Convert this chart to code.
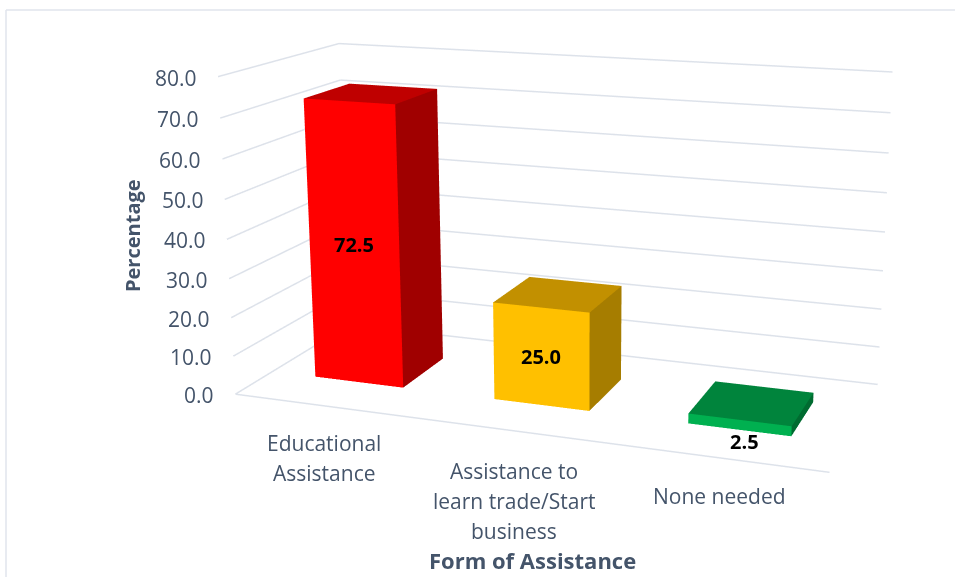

import numpy as np, plotly.graph_objects as go

categories = ["Educational<br>Assistance", "Assistance to<br>learn trade/Start<br>business", "None needed"]
values = [72.5, 25.0, 2.5]
labels = ["72.5", "25.0", "2.5"]
front_colors = ["#ff0000", "#ffc000", "#00b050"]
side_colors = ["#a00000", "#a67d00", "#006b30"]
top_colors = ["#bf0000", "#c29000", "#00843c"]
tick_values = [0, 10, 20, 30, 40, 50, 60, 70, 80]
tick_labels = ["0.0", "10.0", "20.0", "30.0", "40.0", "50.0", "60.0", "70.0", "80.0"]
x_title = "Form of Assistance"
y_title = "Percentage"

W, H = 955, 577
TEXT = "#44546a"
GRID = "#dde2ea"
FRAME = "#e0e5ec"
FONT = "Open Sans"
N = len(categories)

# Bar placement in the scene's axis units (x: category units, y: 0-1 depth)
BAR_STARTS = [0.2493, 1.2477, 2.2461]
BAR_WIDTH = 0.4995
D0, D1 = 0.3012, 0.6980

# Camera matching the reference's perspective
EYE = dict(x=0.9209, y=-2.4698, z=0.6762)
CENTER = dict(x=-0.0113, y=0.1351, z=-0.0378)
ASPECT = dict(x=1.0, y=0.4093, z=0.5333)
FOCAL = 1657.95
CX, CY = 580.0, 238.0

fig = go.Figure()
for t in tick_values:
    fig.add_trace(go.Scatter3d(x=[0, 0, N], y=[0, 1, 1], z=[t, t, t], mode="lines",
                               line=dict(color=GRID, width=3), hoverinfo="skip"))
fig.add_trace(go.Scatter3d(x=[0, N], y=[0, 0], z=[0, 0], mode="lines",
                           line=dict(color=GRID, width=3), hoverinfo="skip"))

for i, v in enumerate(values):
    x0, x1 = BAR_STARTS[i], BAR_STARTS[i] + BAR_WIDTH
    vx = [x0, x1, x1, x0, x0, x1, x1, x0]
    vy = [D0, D0, D1, D1, D0, D0, D1, D1]
    vz = [0, 0, 0, 0, v, v, v, v]
    # faces: front (0,1,5,4), right side (1,2,6,5), top (4,5,6,7)
    fig.add_trace(go.Mesh3d(x=vx, y=vy, z=vz,
                            i=[0, 0, 1, 1, 4, 4], j=[1, 5, 2, 6, 5, 6], k=[5, 4, 6, 5, 6, 7],
                            facecolor=[front_colors[i]] * 2 + [side_colors[i]] * 2 + [top_colors[i]] * 2,
                            flatshading=True, hoverinfo="skip",
                            lighting=dict(ambient=1, diffuse=0, specular=0, roughness=1, fresnel=0)))

scene_notes = []
for t, s in zip(tick_values, tick_labels):
    scene_notes.append(dict(x=0, y=0, z=t, text=s, showarrow=False, xanchor="right",
                            xshift=-19, yshift=-1,
                            font=dict(family=FONT, size=21, color=TEXT)))
for i, (v, s) in enumerate(zip(values, labels)):
    small = v < 5
    scene_notes.append(dict(x=BAR_STARTS[i] + BAR_WIDTH / 2, y=D0, z=0 if small else v / 2,
                            text="<b>%s</b>" % s, showarrow=False,
                            xshift=5 if small else 0, yshift=-12 if small else 0,
                            font=dict(family=FONT, size=20, color="black")))

cat_x = [324, 514, 719]
cat_y = [443, 471, 496]
notes = []
for cat, cx, cy in zip(categories, cat_x, cat_y):
    for k, line in enumerate(cat.split("<br>")):
        notes.append(dict(x=cx / W, y=1 - (cy + 30 * k) / H, xref="paper", yref="paper", text=line,
                          xanchor="center", yanchor="middle", showarrow=False,
                          font=dict(family=FONT, size=21, color=TEXT)))
notes.append(dict(x=532 / W, y=1 - 560 / H, xref="paper", yref="paper", text="<b>%s</b>" % x_title,
                  xanchor="center", yanchor="middle", showarrow=False,
                  font=dict(family=FONT, size=22, color=TEXT)))
notes.append(dict(x=132 / W, y=1 - 236 / H, xref="paper", yref="paper", text="<b>%s</b>" % y_title,
                  xanchor="center", yanchor="middle", textangle=-90, showarrow=False,
                  font=dict(family=FONT, size=20, color=TEXT)))

fig.update_layout(
    width=W, height=H, margin=dict(l=0, r=0, t=0, b=0), showlegend=False,
    paper_bgcolor="white", annotations=notes,
    shapes=[
        dict(type="line", xref="paper", yref="paper", x0=6 / W, x1=1, y0=1 - 10 / H, y1=1 - 10 / H,
             line=dict(color=FRAME, width=1.5)),
        dict(type="line", xref="paper", yref="paper", x0=6 / W, x1=6 / W, y0=0, y1=1 - 10 / H,
             line=dict(color=FRAME, width=1.5)),
    ],
    scene=dict(
        domain=dict(x=[(2 * CX - W) / W, 1], y=[1 - 2 * CY / H, 1]),
        aspectmode="manual", aspectratio=ASPECT,
        xaxis=dict(visible=False, range=[0, N]),
        yaxis=dict(visible=False, range=[0, 1]),
        zaxis=dict(visible=False, range=[0, 80]),
        annotations=scene_notes,
        camera=dict(eye=EYE, center=CENTER, up=dict(x=0, y=0, z=1)),
    ),
)
fovy = 2 * np.arctan(CY / FOCAL)
post = ("document.body.style.margin='0';var g=document.getElementById('{plot_id}');"
        "var s=g._fullLayout.scene._scene.glplot;s.fovy=%.6f;s.redraw();" % fovy)
fig.write_html("out.html", post_script=post, config=dict(displayModeBar=False))
